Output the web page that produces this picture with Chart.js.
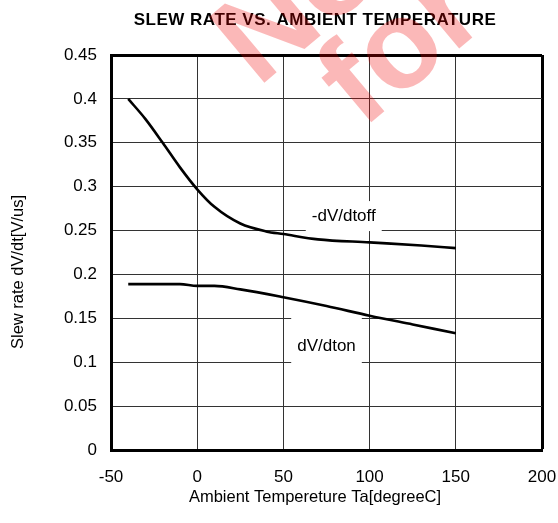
<!DOCTYPE html>
<html>
<head>
<meta charset="utf-8">
<script src="https://cdn.jsdelivr.net/npm/chart.js@4/dist/chart.umd.min.js"></script>
<style>
  html, body { margin: 0; padding: 0; background: #ffffff; }
  #wrap { width: 558px; height: 523px; }
</style>
</head>
<body>
<div id="wrap"><canvas id="c" width="558" height="523"></canvas></div>
<script>
// ---- Data ----
const chartTitle = "SLEW RATE VS. AMBIENT TEMPERATURE";
const xAxisTitle = "Ambient Tempereture Ta[degreeC]";
const yAxisTitle = "Slew rate dV/dt[V/us]";

const offTemps  = [-40, -30, -20, -10, 0, 10, 25, 40, 50, 70, 100, 130, 150];
const offValues = [0.400, 0.377, 0.350, 0.322, 0.297, 0.277, 0.258, 0.249, 0.246, 0.240, 0.2365, 0.233, 0.230];

const onTemps  = [-40, -10, 0, 10, 25, 50, 75, 100, 125, 150];
const onValues = [0.189, 0.189, 0.187, 0.187, 0.183, 0.174, 0.164, 0.153, 0.143, 0.133];

const seriesNames = ["-dV/dtoff", "dV/dton"];
// label anchor positions in data coordinates (temperature, slew rate)
const labelTemps  = [85, 75];
const labelValues = [0.2665, 0.1185];

const xTicks = [-50, 0, 50, 100, 150, 200];
const yTicks = [0, 0.05, 0.1, 0.15, 0.2, 0.25, 0.3, 0.35, 0.4, 0.45];

const watermarkLines = ["Not Recommended", "for New Design"];

const FONT = "'Liberation Sans', Arial, Helvetica, sans-serif";

const toPoints = (xs, ys) => xs.map((x, i) => ({ x: x, y: ys[i] }));

const decorPlugin = {
  id: 'decor',
  beforeDatasetsDraw(chart) {
    const ctx = chart.ctx;
    const xs = chart.scales.x, ys = chart.scales.y;
    ctx.save();
    ctx.font = "17px " + FONT;
    ctx.textAlign = 'center';
    ctx.textBaseline = 'middle';
    seriesNames.forEach((name, i) => {
      const px = xs.getPixelForValue(labelTemps[i]);
      const py = ys.getPixelForValue(labelValues[i]);
      const w = ctx.measureText(name).width + 12;
      const h = i === 0 ? 30 : 46;
      const top = i === 0 ? py - 15 : py - 28;
      ctx.fillStyle = '#ffffff';
      ctx.fillRect(px - w / 2, top, w, h);
      ctx.fillStyle = '#000000';
      ctx.fillText(name, px, py);
    });
    ctx.restore();
  },
  afterDraw(chart) {
    const ctx = chart.ctx;
    ctx.save();
    ctx.fillStyle = '#000000';
    // title
    ctx.font = "bold 17px " + FONT;
    ctx.textAlign = 'center';
    ctx.textBaseline = 'alphabetic';
    ctx.letterSpacing = '0.5px';
    ctx.fillText(chartTitle, 315, 25);
    ctx.letterSpacing = '0px';
    // x axis title
    ctx.font = "16.5px " + FONT;
    ctx.fillText(xAxisTitle, 315, 502);
    // y axis title
    ctx.translate(23, 272);
    ctx.rotate(-Math.PI / 2);
    ctx.fillText(yAxisTitle, 0, 0);
    ctx.restore();

    // red watermark
    ctx.save();
    ctx.globalAlpha = 0.28;
    ctx.fillStyle = '#f00000';
    ctx.font = "bold 125px " + FONT;
    ctx.textAlign = 'left';
    ctx.textBaseline = 'alphabetic';
    ctx.translate(258, 88);
    ctx.rotate(-40 * Math.PI / 180);
    ctx.fillText(watermarkLines[0], 0, 0);
    ctx.fillText(watermarkLines[1], 53, 99);
    ctx.restore();
  }
};

const lastIdx = (c) => c.scale.ticks.length - 1;

new Chart(document.getElementById('c'), {
  type: 'line',
  data: {
    datasets: [
      {
        label: seriesNames[0],
        data: toPoints(offTemps, offValues),
        borderColor: '#000000',
        borderWidth: 2.6,
        pointRadius: 0,
        cubicInterpolationMode: 'monotone',
        fill: false
      },
      {
        label: seriesNames[1],
        data: toPoints(onTemps, onValues),
        borderColor: '#000000',
        borderWidth: 2.6,
        pointRadius: 0,
        cubicInterpolationMode: 'monotone',
        fill: false
      }
    ]
  },
  options: {
    responsive: false,
    animation: false,
    layout: { padding: { top: 55, right: 16, left: 0, bottom: 0 } },
    plugins: {
      legend: { display: false },
      title: { display: false },
      tooltip: { enabled: false }
    },
    scales: {
      x: {
        type: 'linear',
        min: xTicks[0],
        max: xTicks[xTicks.length - 1],
        afterBuildTicks: (s) => { s.ticks = xTicks.map(v => ({ value: v })); },
        afterFit: (s) => { s.height = 73; s.paddingLeft = 0; s.paddingRight = 0; },
        ticks: {
          color: '#000000',
          font: { family: FONT, size: 17 },
          padding: 17,
          maxRotation: 0,
          callback: (v) => String(v)
        },
        grid: {
          color: (c) => c.index === lastIdx(c) ? '#000000' : '#333333',
          lineWidth: (c) => c.index === lastIdx(c) ? 3 : 1,
          drawTicks: false
        },
        border: { display: true, color: '#000000', width: 3 }
      },
      y: {
        type: 'linear',
        min: yTicks[0],
        max: yTicks[yTicks.length - 1],
        afterBuildTicks: (s) => { s.ticks = yTicks.map(v => ({ value: v })); },
        afterFit: (s) => { s.width = 111; s.paddingTop = 0; s.paddingBottom = 0; },
        ticks: {
          color: '#000000',
          font: { family: FONT, size: 17 },
          padding: 14,
          callback: (v) => String(+v.toFixed(2))
        },
        grid: {
          color: (c) => c.index === lastIdx(c) ? '#000000' : '#333333',
          lineWidth: (c) => c.index === lastIdx(c) ? 3 : 1,
          drawTicks: false
        },
        border: { display: true, color: '#000000', width: 3 }
      }
    }
  },
  plugins: [decorPlugin]
});
</script>
</body>
</html>
